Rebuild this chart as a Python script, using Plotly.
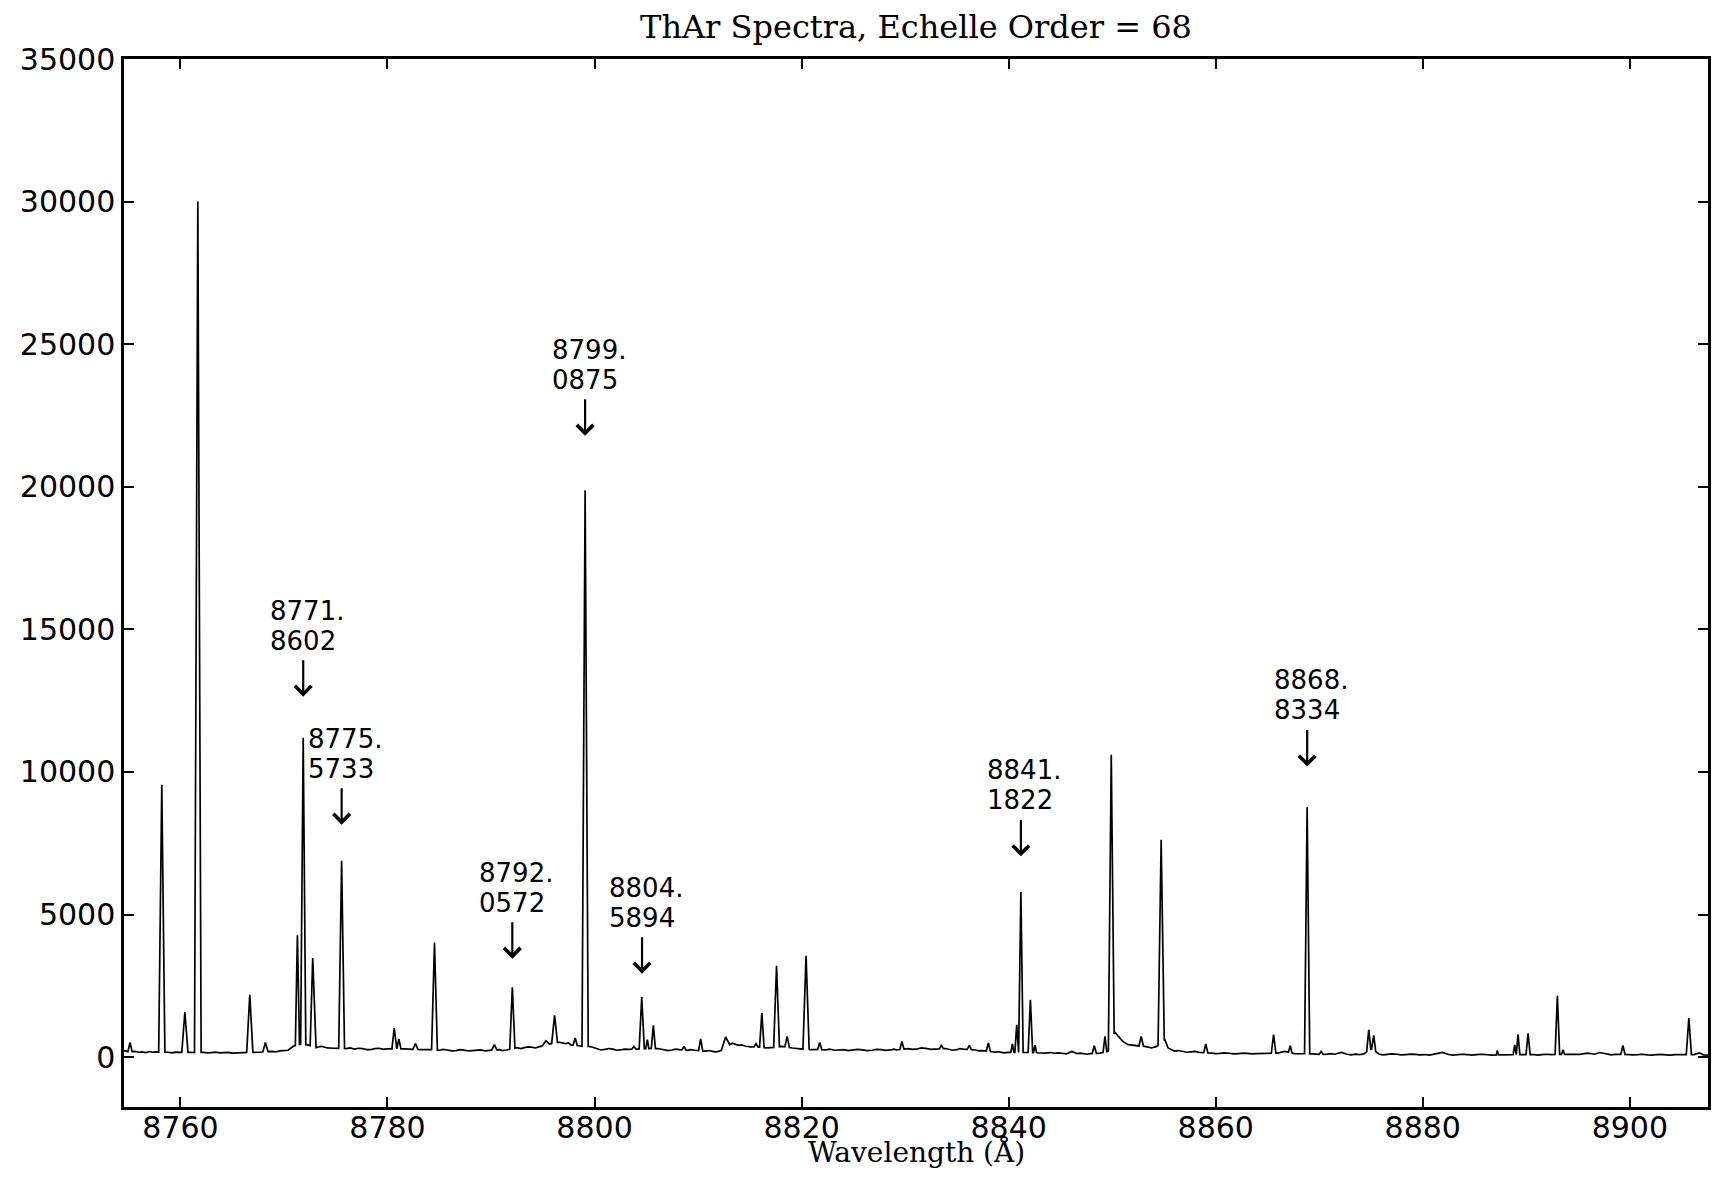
import numpy as np
import plotly.graph_objects as go

# ---------------- data ----------------
# emission lines: centre wavelength (Å), peak counts, half width at base (Å)
line_wl = [8755.13, 8758.20, 8760.43, 8761.68, 8766.70, 8768.21, 8771.30, 8771.86,
           8772.78, 8775.57, 8780.65, 8781.10, 8782.70, 8784.54, 8790.32, 8792.06,
           8795.30, 8796.14, 8798.13, 8799.09, 8803.80, 8804.56, 8805.10, 8805.68,
           8808.64, 8810.25, 8812.66, 8815.60, 8816.16, 8817.58, 8818.60, 8820.43,
           8821.75, 8829.69, 8833.50, 8836.20, 8838.04, 8840.36, 8840.78, 8841.18,
           8842.10, 8842.55, 8848.27, 8849.30, 8849.91, 8852.80, 8854.73, 8859.04,
           8865.59, 8867.20, 8868.83, 8870.18, 8874.78, 8875.26, 8887.20, 8888.88,
           8889.20, 8890.17, 8893.00, 8893.55, 8899.33, 8905.70]
line_peak = [515, 9552, 1581, 30000, 2188, 515, 4268, 11200,
             3475, 6887, 1020, 635, 470, 4022, 435, 2450,
             575, 1465, 670, 19880, 376, 2107, 610, 1110,
             375, 635, 705, 470, 1546, 3205, 725, 3556,
             515, 550, 410, 410, 495, 460, 1135, 5790,
             2013, 420, 400, 725, 10604, 725, 7623, 460,
             785, 400, 8770, 200, 960, 760, 235, 425,
             795, 830, 2153, 260, 410, 1371]
line_hw = [0.2, 0.3, 0.3, 0.32, 0.3, 0.25, 0.2, 0.25,
           0.25, 0.28, 0.22, 0.2, 0.25, 0.28, 0.25, 0.25,
           0.35, 0.28, 0.2, 0.3, 0.2, 0.25, 0.15, 0.2,
           0.2, 0.2, 0.4, 0.2, 0.22, 0.28, 0.22, 0.3,
           0.2, 0.2, 0.2, 0.2, 0.2, 0.15, 0.18, 0.22,
           0.22, 0.15, 0.2, 0.18, 0.28, 0.22, 0.3, 0.2,
           0.22, 0.18, 0.25, 0.2, 0.2, 0.2, 0.1, 0.15,
           0.18, 0.2, 0.22, 0.15, 0.2, 0.25]

# continuum level between the lines (with the visible small-scale ripple)
cont_wl = [8754.55, 8754.9, 8755.6, 8756.0, 8756.3, 8756.7, 8757.0, 8757.3, 8757.6, 8758.8,
           8759.2, 8759.5, 8760.0, 8760.9, 8761.2, 8762.2, 8762.6, 8763.0, 8763.4, 8763.8,
           8764.2, 8764.6, 8765.0, 8765.4, 8765.8, 8766.1, 8767.2, 8767.8, 8768.8, 8769.2,
           8769.6, 8770.0, 8770.4, 8770.9, 8771.58, 8772.3, 8773.1, 8773.6, 8774.2, 8774.8,
           8776.0, 8776.4, 8776.8, 8777.2, 8777.6, 8778.0, 8778.4, 8778.8, 8779.2, 8779.6,
           8779.9, 8781.6, 8782.2, 8783.2, 8783.9, 8785.0, 8785.4, 8785.8, 8786.2, 8786.6,
           8787.0, 8787.4, 8787.8, 8788.2, 8788.6, 8789.0, 8789.4, 8789.7, 8790.8, 8791.1,
           8791.5, 8792.5, 8792.9, 8793.2, 8793.6, 8793.9, 8794.3, 8794.6, 8795.8, 8796.6,
           8796.9, 8797.2, 8797.5, 8797.7, 8798.5, 8798.7, 8799.6, 8800.2, 8800.6, 8801.0,
           8801.4, 8801.8, 8802.1, 8802.5, 8802.9, 8803.3, 8804.1, 8805.4, 8806.1, 8806.5,
           8806.8, 8807.1, 8807.5, 8807.8, 8808.2, 8809.0, 8809.3, 8809.7, 8810.7, 8811.0,
           8811.4, 8811.7, 8812.1, 8813.3, 8813.9, 8814.2, 8814.6, 8815.1, 8815.9, 8816.7,
           8817.1, 8818.1, 8819.1, 8819.7, 8821.0, 8821.4, 8822.3, 8822.7, 8823.2, 8823.6,
           8824.1, 8824.5, 8825.0, 8825.4, 8825.9, 8826.3, 8826.8, 8827.2, 8827.7, 8828.1,
           8828.6, 8828.9, 8829.2, 8830.3, 8830.7, 8831.2, 8831.6, 8832.1, 8832.5, 8832.9,
           8833.9, 8834.2, 8834.6, 8835.0, 8835.3, 8835.6, 8836.8, 8837.1, 8837.4, 8838.7,
           8839.0, 8839.3, 8839.6, 8839.9, 8841.55, 8842.85, 8843.2, 8843.6, 8844.0, 8844.4,
           8844.8, 8845.2, 8845.6, 8846.1, 8846.6, 8846.9, 8847.3, 8847.6, 8847.9, 8848.8,
           8849.6, 8850.26, 8850.6, 8851.06, 8851.54, 8852.2, 8853.15, 8853.5, 8853.8, 8854.3,
           8855.1, 8855.4, 8856.0, 8856.4, 8856.8, 8857.2, 8857.6, 8858.0, 8858.4, 8859.6,
           8860.0, 8860.4, 8860.8, 8861.3, 8861.7, 8862.2, 8862.6, 8863.1, 8863.5, 8864.0,
           8864.4, 8864.9, 8866.0, 8866.65, 8867.6, 8868.3, 8869.3, 8869.7, 8870.8, 8871.1,
           8871.5, 8872.1, 8872.7, 8873.1, 8873.5, 8873.9, 8874.3, 8875.02, 8875.8, 8876.2,
           8876.6, 8877.0, 8877.5, 8877.9, 8878.4, 8878.8, 8879.3, 8879.7, 8880.2, 8880.6,
           8881.0, 8881.9, 8882.5, 8882.9, 8883.4, 8883.8, 8884.3, 8884.7, 8885.2, 8885.6,
           8886.1, 8886.6, 8887.6, 8888.3, 8889.6, 8890.7, 8891.1, 8891.5, 8891.9, 8892.4,
           8894.2, 8894.6, 8895.2, 8895.9, 8896.6, 8897.1, 8897.8, 8898.2, 8898.6, 8899.9,
           8900.3, 8900.8, 8901.2, 8901.7, 8902.1, 8902.6, 8903.0, 8903.5, 8903.9, 8904.4,
           8904.8, 8905.2, 8906.2, 8906.7, 8907.1, 8907.55]
cont_flux = [230, 190, 200, 170, 185, 160, 195, 170, 180, 170,
             150, 175, 165, 170, 160, 170, 145, 160, 175, 150,
             170, 165, 140, 150, 175, 160, 165, 175, 200, 180,
             215, 230, 240, 380, 450, 430, 330, 380, 320, 310,
             300, 320, 280, 310, 300, 260, 260, 300, 310, 270,
             290, 290, 280, 260, 270, 240, 270, 250, 220, 230,
             260, 245, 215, 225, 250, 250, 220, 235, 260, 230,
             250, 330, 300, 330, 360, 350, 320, 360, 470, 520,
             490, 470, 500, 430, 400, 380, 370, 290, 250, 270,
             300, 280, 240, 250, 280, 270, 280, 300, 300, 270,
             260, 230, 250, 280, 260, 235, 260, 240, 210, 230,
             200, 180, 210, 490, 410, 430, 380, 360, 350, 320,
             330, 376, 320, 285, 260, 270, 250, 280, 240, 260,
             260, 230, 245, 270, 255, 230, 240, 270, 260, 235,
             250, 280, 255, 295, 270, 290, 320, 300, 270, 280,
             300, 270, 240, 260, 300, 280, 250, 220, 230, 175,
             190, 165, 150, 165, 165, 150, 120, 140, 160, 135,
             150, 140, 115, 200, 125, 140, 120, 100, 120, 140,
             200, 880, 725, 540, 435, 400, 376, 340, 320, 376,
             600, 320, 210, 230, 200, 170, 185, 200, 165, 140,
             120, 130, 150, 135, 110, 125, 140, 130, 110, 120,
             135, 130, 140, 200, 120, 120, 110, 90, 105, 120,
             100, 165, 100, 80, 105, 90, 110, 300, 100, 80,
             95, 110, 100, 75, 90, 105, 95, 80, 90, 70,
             95, 165, 90, 70, 85, 100, 90, 70, 85, 100,
             90, 70, 85, 85, 85, 90, 70, 85, 100, 90,
             100, 80, 95, 140, 100, 160, 100, 80, 95, 90,
             75, 85, 100, 80, 70, 85, 95, 80, 70, 85,
             100, 90, 90, 150, 80, 70]

# labelled lines: wavelength and counts at the arrow tip
ann_wl = [8771.8602, 8775.5733, 8792.0572, 8799.0875, 8804.5894, 8841.1822, 8868.8334]
ann_tip = [12640, 8150, 3450, 21790, 2925, 7040, 10190]

x_ticks = [8760, 8780, 8800, 8820, 8840, 8860, 8880, 8900]
y_ticks = [0, 5000, 10000, 15000, 20000, 25000, 30000, 35000]

# ---------------- build spectrum polyline ----------------
cw = np.array(cont_wl, dtype=float)
cf = np.array(cont_flux, dtype=float)
pts = []
keep = np.ones(len(cw), dtype=bool)
for c, h, w in zip(line_wl, line_peak, line_hw):
    keep &= ~((cw > c - w) & (cw < c + w))
    for xx in (c - w, c + w):
        pts.append((xx, float(np.interp(xx, cw, cf))))
    pts.append((c, float(h)))
for xx, yy in zip(cw[keep], cf[keep]):
    pts.append((xx, yy))
pts.sort(key=lambda p: p[0])
spec_x = [p[0] for p in pts]
spec_y = [p[1] for p in pts]

# ---------------- figure ----------------
W, H = 1716, 1196
L, R, T, B = 124, 5, 59, 89
PLOT_H = H - T - B
Y0, Y1 = -1750, 35000
CNT_PER_PX = (Y1 - Y0) / PLOT_H

fig = go.Figure()
fig.add_trace(go.Scatter(x=spec_x, y=spec_y, mode="lines",
                         line=dict(color="black", width=1.7), hoverinfo="skip",
                         showlegend=False))

ARROW_LEN = 1330            # counts between arrow tail and tip
TEXT_GAP = 2110 + 5 * CNT_PER_PX  # counts between first-line box top and arrow tail
LINE_STEP = 30 * CNT_PER_PX  # line spacing of the two-line labels
TEXT_DX = 3.42              # Å between text left edge and line

annotations = []
for wl, tip in zip(ann_wl, ann_tip):
    s = f"{wl:.4f}"
    a, b = s.split(".")
    annotations.append(dict(x=wl, y=tip, xref="x", yref="y",
                            ax=wl, ay=tip + ARROW_LEN, axref="x", ayref="y",
                            text="", showarrow=True, arrowhead=4, arrowsize=1.45,
                            arrowwidth=2.2, arrowcolor="black", standoff=0, startstandoff=0))
    top = tip + ARROW_LEN + TEXT_GAP
    for k, part in enumerate((a + ".", b)):
        annotations.append(dict(x=wl - TEXT_DX, y=top - k * LINE_STEP, xref="x", yref="y",
                                text=part, showarrow=False, xanchor="left", yanchor="top",
                                align="left",
                                font=dict(family="DejaVu Sans", size=26, color="black")))

annotations.append(dict(x=0.5, y=-(1152 - (H - B)) / PLOT_H, xref="paper", yref="paper",
                        text="Wavelength (Å)", showarrow=False, xanchor="center", yanchor="middle",
                        font=dict(family="DejaVu Serif", size=28, color="black")))

axis_common = dict(showline=True, linecolor="black", linewidth=2.5, mirror="ticks",
                   ticks="inside", ticklen=10, tickwidth=1.6, tickcolor="black",
                   showgrid=False, zeroline=False,
                   tickfont=dict(family="DejaVu Sans", size=30, color="black"))

fig.update_layout(
    width=W, height=H,
    margin=dict(l=L, r=R, t=T, b=B),
    paper_bgcolor="white", plot_bgcolor="white",
    title=dict(text="ThAr Spectra, Echelle Order = 68", x=0.5, xref="paper",
               y=1 - 27 / H, yref="container", xanchor="center", yanchor="middle",
               font=dict(family="DejaVu Serif", size=32, color="black")),
    xaxis=dict(range=[8754.55, 8907.55], tickvals=x_ticks,
               ticktext=[str(v) for v in x_ticks], ticklabelstandoff=-8, **axis_common),
    yaxis=dict(range=[Y0, Y1], tickvals=y_ticks,
               ticktext=[str(v) for v in y_ticks], ticklabelstandoff=0, **axis_common),
    annotations=annotations,
    showlegend=False,
)

fig.write_html("out.html")
